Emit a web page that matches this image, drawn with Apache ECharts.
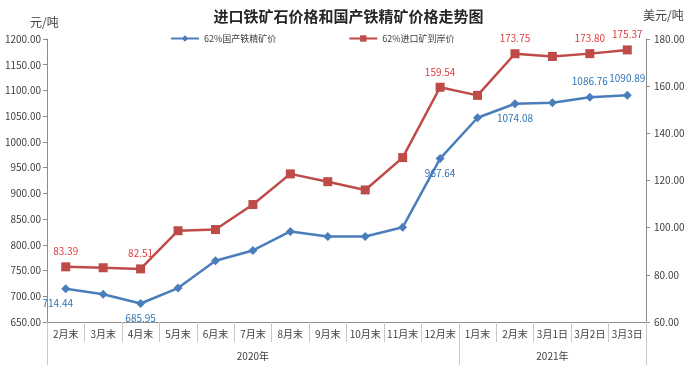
<!DOCTYPE html>
<html><head><meta charset="utf-8">
<script src="https://cdn.jsdelivr.net/npm/echarts@6/dist/echarts.min.js"></script>
<style>html,body{margin:0;padding:0;background:#fff}#c{width:697px;height:371px}</style>
</head><body><div id="c"></div>
<script>
const categories = ['2月末','3月末','4月末','5月末','6月末','7月末','8月末','9月末','10月末','11月末','12月末','1月末','2月末','3月1日','3月2日','3月3日'];
const yearLabels = ['','','','','','2020年','','','','','','','','2021年','',''];
const domestic = [714.44, 704, 685.95, 716, 769, 789, 826, 816, 816, 834, 967.64, 1047, 1074.08, 1076, 1086.76, 1090.89];
const imported = [83.39, 83.0, 82.51, 98.7, 99.2, 109.8, 122.8, 119.5, 116.0, 129.7, 159.54, 156.1, 173.75, 172.6, 173.80, 175.37];
const domesticLabeled = [0, 2, 10, 12, 14, 15];
const domesticLabelPos = {0:'bottom',2:'bottom',10:'bottom',12:'bottom',14:'top',15:'top'};
const importedLabeled = [0, 2, 10, 12, 14, 15];
const leftTicks = {min:650, max:1200, interval:50};
const rightTicks = {min:60, max:180, interval:20};

const FONT = '"Noto Sans CJK SC", "Noto Sans", sans-serif';
const axisColor = '#8c8c8c';
const txt = '#404040';
const chart = echarts.init(document.getElementById('c'));
chart.setOption({
  animation:false,
  textStyle:{fontFamily:FONT},
  title:[
    {text:'进口铁矿石价格和国产铁精矿价格走势图', left:'center', top:4, textStyle:{fontSize:15, fontWeight:'bold', color:'#262626', fontFamily:FONT}},
    {text:'元/吨', left:25, top:11, textStyle:{fontSize:12, fontWeight:'normal', color:txt, fontFamily:FONT}},
    {text:'美元/吨', left:638, top:4, textStyle:{fontSize:12, fontWeight:'normal', color:txt, fontFamily:FONT}}
  ],
  legend:{
    top:29, left:165, itemGap:72, itemWidth:28, itemHeight:8,
    textStyle:{fontSize:9, color:txt, fontFamily:FONT},
    data:['62%国产铁精矿价','62%进口矿到岸价']
  },
  grid:{left:47, right:51, top:39, bottom:49, containLabel:false},
  xAxis:[
    {type:'category', data:categories, position:'bottom', boundaryGap:true,
     axisLine:{lineStyle:{color:axisColor}},
     axisTick:{show:true, interval:0, length:20, lineStyle:{color:'#c8c8c8'}},
     axisLabel:{interval:0, fontSize:10, color:txt, margin:7, fontFamily:FONT}},
    {type:'category', data:yearLabels, position:'bottom', offset:20, boundaryGap:true,
     axisLine:{show:false},
     axisTick:{show:true, length:23, lineStyle:{color:'#c8c8c8'},
       interval:function(i){ return i===0 || i===11 || i===16; }},
     axisLabel:{interval:0, fontSize:10, color:txt, margin:9, fontFamily:FONT}}
  ],
  yAxis:[
    {type:'value', min:leftTicks.min, max:leftTicks.max, interval:leftTicks.interval, position:'left',
     axisLine:{show:true, lineStyle:{color:axisColor}}, axisTick:{show:true, length:4, lineStyle:{color:axisColor}},
     splitLine:{show:false},
     axisLabel:{fontSize:10, color:txt, margin:6, formatter:v=>v.toFixed(2), fontFamily:FONT}},
    {type:'value', min:rightTicks.min, max:rightTicks.max, interval:rightTicks.interval, position:'right',
     axisLine:{show:true, lineStyle:{color:axisColor}}, axisTick:{show:true, length:4, lineStyle:{color:axisColor}},
     splitLine:{show:false},
     axisLabel:{fontSize:10, color:txt, margin:8, formatter:v=>v.toFixed(2), fontFamily:FONT}}
  ],
  series:[
    {name:'62%国产铁精矿价', type:'line', yAxisIndex:0, xAxisIndex:0,
     symbol:'diamond', symbolSize:9,
     lineStyle:{color:'#4a7ebb', width:2.5}, itemStyle:{color:'#4a7ebb'},
     data:domestic.map((v,i)=>{
       const o={value:v};
       if(domesticLabeled.includes(i)) o.label={show:true, position:domesticLabelPos[i],
         distance: domesticLabelPos[i]==='bottom' ? 5 : 7,
         offset: i===0 ? [-8,0] : [0,0],
         color:'#2e75b6', fontSize:10, fontFamily:FONT, formatter:p=>p.value.toFixed(2)};
       return o;
     })},
    {name:'62%进口矿到岸价', type:'line', yAxisIndex:1, xAxisIndex:0,
     symbol:'rect', symbolSize:9,
     lineStyle:{color:'#be4b48', width:2.5}, itemStyle:{color:'#be4b48'},
     data:imported.map((v,i)=>{
       const o={value:v};
       if(importedLabeled.includes(i)) o.label={show:true, position:'top', distance:6,
         color:'#e03c3c', fontSize:10, fontFamily:FONT, formatter:p=>p.value.toFixed(2)};
       return o;
     })}
  ]
});
</script></body></html>
